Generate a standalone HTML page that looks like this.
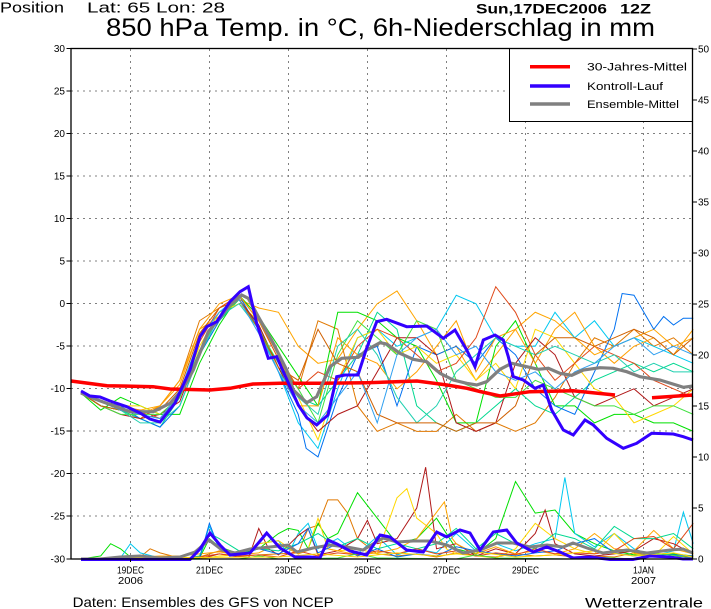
<!DOCTYPE html>
<html><head><meta charset="utf-8"><style>
html,body{margin:0;padding:0;background:#fff;}
svg{display:block;font-family:"Liberation Sans",sans-serif;}
.m polyline,.p polyline{fill:none;stroke-width:1;vector-effect:non-scaling-stroke;stroke-linejoin:miter;}
.g line{stroke:#808080;stroke-width:1;stroke-dasharray:2,4;}
.tl{font-size:10px;text-anchor:end;}
.tr{font-size:10px;}
.tx{font-size:10px;text-anchor:middle;}
</style></head><body>
<svg width="711" height="609" viewBox="0 0 711 609" xmlns="http://www.w3.org/2000/svg">
<rect width="711" height="609" fill="#fff"/>
<!-- titles -->
<text x="0" y="12.7" font-size="15" textLength="64" lengthAdjust="spacingAndGlyphs">Position</text>
<text x="87" y="12.7" font-size="15" textLength="138" lengthAdjust="spacingAndGlyphs">Lat: 65 Lon: 28</text>
<text x="106" y="36" font-size="25" textLength="549" lengthAdjust="spacingAndGlyphs">850 hPa Temp. in °C, 6h-Niederschlag in mm</text>
<text x="476" y="13.3" font-size="14" font-weight="bold" textLength="131" lengthAdjust="spacingAndGlyphs">Sun,17DEC2006</text>
<text x="620" y="13.3" font-size="14" font-weight="bold" textLength="31" lengthAdjust="spacingAndGlyphs">12Z</text>
<text x="72.7" y="607" font-size="14" textLength="261" lengthAdjust="spacingAndGlyphs">Daten: Ensembles des GFS von NCEP</text>
<text x="585" y="607.5" font-size="14" textLength="118" lengthAdjust="spacingAndGlyphs">Wetterzentrale</text>

<!-- grid -->
<g class="g">
<line x1="71" y1="91" x2="692" y2="91"/>
<line x1="71" y1="133.5" x2="692" y2="133.5"/>
<line x1="71" y1="176" x2="692" y2="176"/>
<line x1="71" y1="218.5" x2="692" y2="218.5"/>
<line x1="71" y1="261" x2="692" y2="261"/>
<line x1="71" y1="303.5" x2="692" y2="303.5"/>
<line x1="71" y1="346" x2="692" y2="346"/>
<line x1="71" y1="388.5" x2="692" y2="388.5"/>
<line x1="71" y1="431" x2="692" y2="431"/>
<line x1="71" y1="473.5" x2="692" y2="473.5"/>
<line x1="71" y1="516" x2="692" y2="516"/>
<line x1="130.5" y1="49" x2="130.5" y2="559"/>
<line x1="209.5" y1="49" x2="209.5" y2="559"/>
<line x1="288.5" y1="49" x2="288.5" y2="559"/>
<line x1="367.5" y1="49" x2="367.5" y2="559"/>
<line x1="446.5" y1="49" x2="446.5" y2="559"/>
<line x1="525.5" y1="49" x2="525.5" y2="559"/>
<line x1="643.5" y1="49" x2="643.5" y2="559"/>
</g>

<!-- ensemble temperature members -->
<g class="m" transform="matrix(19.75 0 0 -8.508 81 303.75)">
<polyline stroke="#FFA500" points="0,-10.5 1,-11.5 2,-12 3,-12.5 4,-12 5,-9.5 6,-3 7,-1.5 8,0.5 9,-0.5 10,-1 11,-5 12,-7 13,-6.5 14,-3 15,0 16,1.5 17,-2 18,-6 19,-5 20,-9 21,-6 22,-3 23,-1 24,-2 25,-4 26,-6 27,-5 28,-4 29,-3 30,-5 31,-4"/>
<polyline stroke="#E07800" points="0,-10.5 1,-12 2,-12.5 3,-13.5 4,-12 5,-9 6,-2 7,-0.5 8,1 9,-2 10,-6 11,-10 12,-2 13,-3 14,-12 15,-15 16,-14 17,-15 18,-15 19,-13 20,-15 21,-14 22,-15 23,-14 24,-11 25,-7 26,-4 27,-5 28,-3 29,-5 30,-4 31,-6"/>
<polyline stroke="#00E000" points="0,-10.5 1,-12.5 2,-11 3,-12 4,-13 5,-13 6,-7 7,-2.5 8,1 9,-1.5 10,-5 11,-8.5 12,-12 13,-1 14,-1 15,-2 16,-4 17,-5 18,-9 19,-14 20,-14 21,-5 22,-2 23,-7 24,-12 25,-12 26,-14 27,-13 28,-13 29,-14 30,-14 31,-15"/>
<polyline stroke="#00D890" points="0,-10.5 1,-12 2,-12.5 3,-13.5 4,-14.5 5,-11 6,-6 7,-2 8,0.5 9,-2.5 10,-7.5 11,-11 12,-12 13,-9 14,-6 15,-1 16,-3 17,-12 18,-14 19,-15 20,-14 21,-12 22,-10 23,-12 24,-13 25,-11 26,-9 27,-8 28,-7 29,-8 30,-7 31,-8"/>
<polyline stroke="#00C8F0" points="0,-10.5 1,-11.5 2,-12.5 3,-13 4,-13.5 5,-10.5 6,-4 7,-1 8,1 9,-3 10,-8 11,-14 12,-17 13,-10 14,-4 15,-3 16,-5 17,-4 18,-3 19,1 20,0 21,-4 22,-5 23,-5 24,-1 25,-4 26,-2 27,-5 28,-4 29,-5 30,-6 31,-7"/>
<polyline stroke="#0070F0" points="0,-10.5 1,-11.5 2,-12 3,-13.5 4,-14.5 5,-12 6,-6 7,-2 8,1 9,-3 10,-8 11,-13 11.4,-17 12,-18 13,-11 14,-6 15,-5 16,-12 17,-5 18,-6 19,-5 20,-7 21,-4 22,-6 23,-10 24,-12 25,-13 26,-8 27,-3 27.4,1.2 28,1 29,-3 29.5,-1.5 30,-2.5 30.5,-1.7 31,-1.7"/>
<polyline stroke="#FFD700" points="0,-10.5 1,-11 2,-12 3,-12 4,-13 5,-11 6,-5 7,-1 8,0 9,-2 10,-6.5 11,-11 12,-16 13,-9 14,-4 15,-3 16,-6 17,-5 18,-7 19,-6 20,-9 21,-7 22,-10 23,-3 24,-4 25,-7 26,-10 27,-11 28,-14 29,-13 30,-12 31,-10"/>
<polyline stroke="#B01818" points="0,-10.5 1,-12 2,-13 3,-13.5 4,-13 5,-11.5 6,-5.5 7,-1.5 8,0.5 9,-2.5 10,-7.5 11,-12 12,-15 13,-13 14,-12 15,-8 16,-4 17,-4 18,-6 19,-14 20,-15 21,-14 22,-7 23,-4 24,-6 25,-11 26,-12 27,-11 28,-10 29,-12 30,-11 31,-10"/>
<polyline stroke="#E04818" points="0,-10.5 1,-12 2,-12.5 3,-12.5 4,-13.5 5,-11 6,-4.5 7,-0.5 8,1 9,-2 10,-6.5 11,-10 12,-8 13,-9 14,-5 15,-3 16,-4 17,-6 18,-8 19,-7 20,-4 21,2 22,-1 23,-6 24,-9 25,-7 26,-5 27,-6 28,-7 29,-9 30,-10 31,-11"/>
<polyline stroke="#FFA000" points="0,-10.5 1,-11.5 2,-12.5 3,-13 4,-12 5,-9 6,-3 7,0 8,1 9,-2 10,-6 11,-12 12,-12 13,-4 14,-6 15,-7 16,-10 17,-8 18,-5 19,-2 20,-8 21,-4 22,-3 23,-7 24,-3 25,-1 26,-5 27,-7 28,-5 29,-4 30,-6 31,-3"/>
<polyline stroke="#40E040" points="0,-10.5 1,-12 2,-13 3,-13 4,-13 5,-11 6,-5.5 7,-1.5 8,0.5 9,-3 10,-7 11,-10 12,-14 13,-6 14,-2 15,-4 16,-6 17,-2 18,-3 19,-9 20,-10 21,-11 22,-11 23,-9 24,-10 25,-11 26,-12 27,-12 28,-13 29,-12 30,-12 31,-13"/>
<polyline stroke="#20D0B0" points="0,-10.5 1,-12 2,-12.5 3,-14 4,-14 5,-12 6,-6 7,-1.5 8,0 9,-3 10,-8 11,-11 12,-13 13,-5 14,-3 15,-6 16,-11 17,-14 18,-12 19,-8 20,-6 21,-4 22,-5 23,-6 24,-5 25,-6 26,-7 27,-6 28,-8 29,-7 30,-8 31,-8"/>
<polyline stroke="#D06000" points="0,-10.5 1,-12 2,-12.5 3,-13 4,-12.5 5,-10 6,-3.5 7,-0.5 8,0.5 9,-3 10,-7.5 11,-9 12,-3 13,-7 14,-8 15,-13 16,-14 17,-14 18,-14 19,-15 20,-14 21,-14 22,-12 23,-6 24,-4 25,-4 26,-5 27,-4 28,-3 29,-4 30,-6 31,-4"/>
<polyline stroke="#30A0F0" points="0,-10.5 1,-11.5 2,-12.5 3,-13 4,-13.5 5,-10.5 6,-4 7,-1 8,0.5 9,-3.5 10,-8 11,-12 12,-14 13,-11 14,-8 15,-14 16,-6 17,-4 18,-3 19,-6 20,-5 21,-8 22,-9 23,-8 24,-10 25,-8 26,-7 27,-5 28,-4 29,-6 30,-5 31,-6"/>
</g>

<!-- precipitation members -->
<g class="p" transform="matrix(19.75 0 0 -10.2 81 559)">
<polyline stroke="#E07800" points="0,0 1,0 2,0.1 3,0.2 3.5,1 4,0.6 5,0.1 6,0.2 7,0.8 7.5,0.5 8,0.3 9,0.4 10,0.5 11,0.6 11.5,3 12,3.3 12.5,5.8 13,5.8 13.5,4.5 14,2 15,0.5 16,0.3 17,0.5 18,0.2 19,0.6 20,0.3 21,0.2 22,0.5 23,0.3 24,0.4 25,0.2 26,0.3 27,0.2 28,0.6 29,0.3 30,0.2 31,0.3"/>
<polyline stroke="#00E000" points="0,0 1,0.3 1.5,1.5 2,1 2.5,0.2 3,0.1 4,0 5,0 6,0.1 6.5,2 7,1.2 8,0.5 9,1 10,2.5 10.5,3 11,2.8 11.5,1 12,3.5 12.5,2 13,2.5 14,6.5 15,4 16,1.5 17,2 18,4 19,1 20,0.5 21,2 22,7.6 23,4.5 24,4.8 25,2.5 26,1.5 27,0.8 28,0.4 29,0.3 30,0.5 31,0.3"/>
<polyline stroke="#00C8F0" points="0,0 1,0 2,0.1 2.5,1.5 3,0.6 4,0.1 5,0 6,0.2 6.5,3.2 7,1 8,0.3 9,1.5 10,1.8 10.5,0.5 11,2.5 11.5,3.5 12,1 13,2 14,0.5 15,2.2 16,0.4 17,1 18,0.6 19,2.5 20,0.8 21,1.5 22,0.8 23,1.5 24,2 24.5,8 25,2.5 26,1.2 27,2.5 28,1 29,0.3 30,0.8 30.5,4.6 31,1.5"/>
<polyline stroke="#B01818" points="0,0.1 6,0 7,0.5 8,0.2 8.5,0.2 9,3 9.5,1 10,0.4 11,2.3 11.5,3 12,0.4 13,0.8 14,2 14.5,3.8 15,1.5 16,2 17,5 17.45,9 17.8,4 18,1 19,1.5 20,0.3 21,1 22,0.5 23,2.5 23.5,4.8 24,1.5 25,0.5 26,0.3 27,0.5 28,0.8 29,2 30,1.5 31,0.5"/>
<polyline stroke="#FFD700" points="0,0 6,0 7,0.3 8,0.4 9,1.5 10,1.8 11,0.5 11.5,1 12,4 12.5,1 13,0.8 14,1 15,0.5 16,6 16.5,6.9 17,4 18,2.5 18.5,1 19,0.5 20,0.3 21,0.1 22,1 23,3.5 24,2 25,1 26,0.5 27,2.5 28,0.5 29,0.3 30,2.2 31,0.5"/>
<polyline stroke="#FFA500" points="0,0 1,0 2,0.1 3,0.2 4,0.3 5,0.3 6,0.5 7,0.7 8,0.4 9,0.6 10,1.5 11,0.5 12,1.2 13,0.8 14,0.4 15,0.6 16,1 17,2 18.4,5.6 18.8,2 19,1.5 20,0.5 21,1.2 22,0.5 23,0.8 24,0.5 25,1 26,2.5 27,1 28,0.8 29,2.8 30,1 31,0.5"/>
<polyline stroke="#00D890" points="0,0 5,0 6,0.3 6.5,2.5 7,2 8,0.8 9,1 10,0.8 11,1.5 12,2.5 13,1.2 14,2 15,1 16,1.5 17,1 18,1.5 19,3 20,1 21,2.5 22,1.5 23,1 24,2.5 25,2 26,1 27,3.2 28,2 29,2 30,2.5 31,1"/>
<polyline stroke="#0070F0" points="0,0 5,0 6,0 6.5,3.5 7,1 8,0.4 9,1 10,0.5 11,1.5 11.5,3 12,0.6 13,1.5 14,0.3 15,1 16,0.2 17,0.5 18,0.3 19,1.2 20,0.8 21,0.5 22,0.3 23,0.6 24,0.8 25,1.5 26,2 27,0.6 28,0.3 29,0.5 30,0.4 31,0.3"/>
<polyline stroke="#E04818" points="0,0.1 5,0 6,0.2 7,0.5 8,0.3 9,0.4 10,0.2 11,0.8 12,0.3 13,0.6 14,0.4 15,0.8 16,0.5 17,1 18,0.5 19,0.8 20,0.3 21,0.6 22,0.4 23,1 24,0.5 25,0.6 26,0.5 27,0.8 28,2 29,2.2 30,1 31,3.5"/>
<polyline stroke="#40E040" points="0,0 8,0 9,0.3 10,0 13,0.1 14,0.5 15,0.1 19,0 20,0.4 21,0.1 25,0 26,0.2 28,0 29,0.6 31,0.1"/>
<polyline stroke="#FFD700" points="0,0.1 10,0.2 12,0.5 14,0.2 16,0.6 18,0.3 20,0.7 22,0.2 24,0.4 26,0.8 28,0.3 30,0.6 31,0.2"/>
</g>

<!-- precipitation thick -->
<polyline fill="none" stroke="#808080" stroke-width="3" points="81,559 100,559 120,557 140,556 160,558 180,557 195,552 209,540 222,550 235,553 250,549 270,547 288,545 297,552 313,548 330,545 347,547 363,550 383,538 397,542 413,541 430,541 447,545 463,553 480,550 497,543 513,543 530,547 547,545 563,547 573,543 587,548 603,553 627,550 647,553 670,550 683,549 693,553"/>
<polyline fill="none" stroke="#3300FF" stroke-width="3" points="81,559.5 190,559.5 200,549 210,533 220,545 230,555 250,553 266.7,533 280,548 295,557 310,557 320,558 328,540 337,544 350,551 366.7,555 380,535 390,537 406.7,550 423.3,552 436.7,532 446.7,537 460,530 470,533 480,550 493.3,532 506.7,530 516.7,543 533.3,552 546.7,547 560,552 573,558 590,557 610,559.5 633,559.5 650,556 670,557 683,559 693,559"/>

<!-- 30-year mean -->
<polyline fill="none" stroke="#FF0000" stroke-width="3.5" points="71,381 90,383.5 107,385.7 153,386.7 170,389 210,390 230,388.3 253,384 280,383.3 320,383.3 367,382.7 417,381 447,385 467,388.3 480,391.5 500,396 530,391.7 573,390.7 615,395"/>
<polyline fill="none" stroke="#FF0000" stroke-width="3.5" points="652,397.7 693,395"/>
<!-- ensemble mean -->
<polyline fill="none" stroke="#808080" stroke-width="3.2" points="81,393 95,399 106.7,403.3 130,411.7 153.3,411.7 170,403.3 183.3,388.3 193.3,370 208.3,331.7 216.7,321.7 230,305 241.7,295 248.3,298.3 258.3,316.7 273.3,343.3 286.7,370 293.3,390 306.7,402.7 316.7,396.7 330,366.7 341.7,358.3 358.3,357.3 366.7,350 380,342.7 386.7,344 400,353.3 413.3,359.3 426.7,361.7 440,373.3 453.3,380 466.7,383.3 476.7,385 486.7,381.7 500,369.3 511.7,363.3 526.7,366.7 538.3,369.3 548.3,368.3 560,373.3 571.7,375.3 583.3,370 600,367.7 613.3,368.3 626.7,371.7 640,376.7 660,380 683.3,387.3 693,386"/>
<!-- control -->
<polyline fill="none" stroke="#3300FF" stroke-width="3" points="81,391 90,396 100,397 110,401 126.7,406.7 140,413 150,419 160,422 175,403 190,370 200,336.7 206.7,326.7 216.7,321.7 230,301.7 240,291.7 248.3,286.7 256.7,323.3 263.3,343.3 268.3,358.3 276.7,356.7 290,386.7 298.3,405 307,418 316.7,425 328,415 336.7,376.7 345,375 358,375 366,350 376.7,321.7 386.7,319.3 406.7,326.7 426.7,326 443.3,338.3 455,330 466.7,350 475,366.7 483.3,340 495,335 503.3,340 508.3,356.7 513.3,376.7 523.3,380 535,388.3 543.3,385 551.7,410 563.3,430 573.3,435 585,420 593.3,425 606.7,438.3 623.3,448.3 636.7,443.3 651.7,433.3 673.3,434 683.3,436.7 693,440"/>

<!-- legend -->
<rect x="509.5" y="48.5" width="183" height="73" fill="#fff" stroke="#000" stroke-width="1"/>
<line x1="530" y1="66.7" x2="570" y2="66.7" stroke="#FF0000" stroke-width="3.5"/>
<line x1="530" y1="86" x2="570" y2="86" stroke="#3300FF" stroke-width="3.5"/>
<line x1="530" y1="104" x2="570" y2="104" stroke="#808080" stroke-width="3.5"/>
<text x="587" y="70.7" font-size="11" textLength="100" lengthAdjust="spacingAndGlyphs">30-Jahres-Mittel</text>
<text x="587" y="90" font-size="11" textLength="76" lengthAdjust="spacingAndGlyphs">Kontroll-Lauf</text>
<text x="587" y="108" font-size="11" textLength="92" lengthAdjust="spacingAndGlyphs">Ensemble-Mittel</text>

<!-- frame -->
<rect x="71" y="48.5" width="621.5" height="510.5" fill="none" stroke="#000" stroke-width="1.3"/>

<!-- left ticks & labels -->
<g stroke="#000" stroke-width="1">
<line x1="66.5" y1="48.5" x2="71" y2="48.5"/>
<line x1="66.5" y1="91" x2="71" y2="91"/>
<line x1="66.5" y1="133.5" x2="71" y2="133.5"/>
<line x1="66.5" y1="176" x2="71" y2="176"/>
<line x1="66.5" y1="218.5" x2="71" y2="218.5"/>
<line x1="66.5" y1="261" x2="71" y2="261"/>
<line x1="66.5" y1="303.5" x2="71" y2="303.5"/>
<line x1="66.5" y1="346" x2="71" y2="346"/>
<line x1="66.5" y1="388.5" x2="71" y2="388.5"/>
<line x1="66.5" y1="431" x2="71" y2="431"/>
<line x1="66.5" y1="473.5" x2="71" y2="473.5"/>
<line x1="66.5" y1="516" x2="71" y2="516"/>
<line x1="66.5" y1="559" x2="71" y2="559"/>
<line x1="692" y1="49" x2="697" y2="49"/>
<line x1="692" y1="100" x2="697" y2="100"/>
<line x1="692" y1="151" x2="697" y2="151"/>
<line x1="692" y1="202" x2="697" y2="202"/>
<line x1="692" y1="253" x2="697" y2="253"/>
<line x1="692" y1="304" x2="697" y2="304"/>
<line x1="692" y1="355" x2="697" y2="355"/>
<line x1="692" y1="406" x2="697" y2="406"/>
<line x1="692" y1="457" x2="697" y2="457"/>
<line x1="692" y1="508" x2="697" y2="508"/>
<line x1="692" y1="559" x2="697" y2="559"/>
<line x1="130.5" y1="559" x2="130.5" y2="562"/>
<line x1="209.5" y1="559" x2="209.5" y2="562"/>
<line x1="288.5" y1="559" x2="288.5" y2="562"/>
<line x1="367.5" y1="559" x2="367.5" y2="562"/>
<line x1="446.5" y1="559" x2="446.5" y2="562"/>
<line x1="525.5" y1="559" x2="525.5" y2="562"/>
<line x1="643.5" y1="559" x2="643.5" y2="562"/>
</g>
<g class="tl">
<text x="65" y="52.2">30</text>
<text x="65" y="94.7">25</text>
<text x="65" y="137.2">20</text>
<text x="65" y="179.7">15</text>
<text x="65" y="222.2">10</text>
<text x="65" y="264.7">5</text>
<text x="65" y="307.2">0</text>
<text x="65" y="349.7">-5</text>
<text x="65" y="392.2">-10</text>
<text x="65" y="434.7">-15</text>
<text x="65" y="477.2">-20</text>
<text x="65" y="519.7">-25</text>
<text x="65" y="562.7">-30</text>
</g>
<g class="tr">
<text x="698" y="52.7">50</text>
<text x="698" y="103.7">45</text>
<text x="698" y="154.7">40</text>
<text x="698" y="205.7">35</text>
<text x="698" y="256.7">30</text>
<text x="698" y="307.7">25</text>
<text x="698" y="358.7">20</text>
<text x="698" y="409.7">15</text>
<text x="698" y="460.7">10</text>
<text x="698" y="511.7">5</text>
<text x="698" y="562.7">0</text>
</g>
<g class="tx">
<text x="130.5" y="573.5" textLength="27" lengthAdjust="spacingAndGlyphs">19DEC</text>
<text x="130.5" y="584" textLength="25" lengthAdjust="spacingAndGlyphs">2006</text>
<text x="209.5" y="573.5" textLength="27" lengthAdjust="spacingAndGlyphs">21DEC</text>
<text x="288.5" y="573.5" textLength="27" lengthAdjust="spacingAndGlyphs">23DEC</text>
<text x="367.5" y="573.5" textLength="27" lengthAdjust="spacingAndGlyphs">25DEC</text>
<text x="446.5" y="573.5" textLength="27" lengthAdjust="spacingAndGlyphs">27DEC</text>
<text x="525.5" y="573.5" textLength="27" lengthAdjust="spacingAndGlyphs">29DEC</text>
<text x="643.5" y="573.5" textLength="21" lengthAdjust="spacingAndGlyphs">1JAN</text>
<text x="643.5" y="584" textLength="25" lengthAdjust="spacingAndGlyphs">2007</text>
</g>
</svg>
</body></html>
